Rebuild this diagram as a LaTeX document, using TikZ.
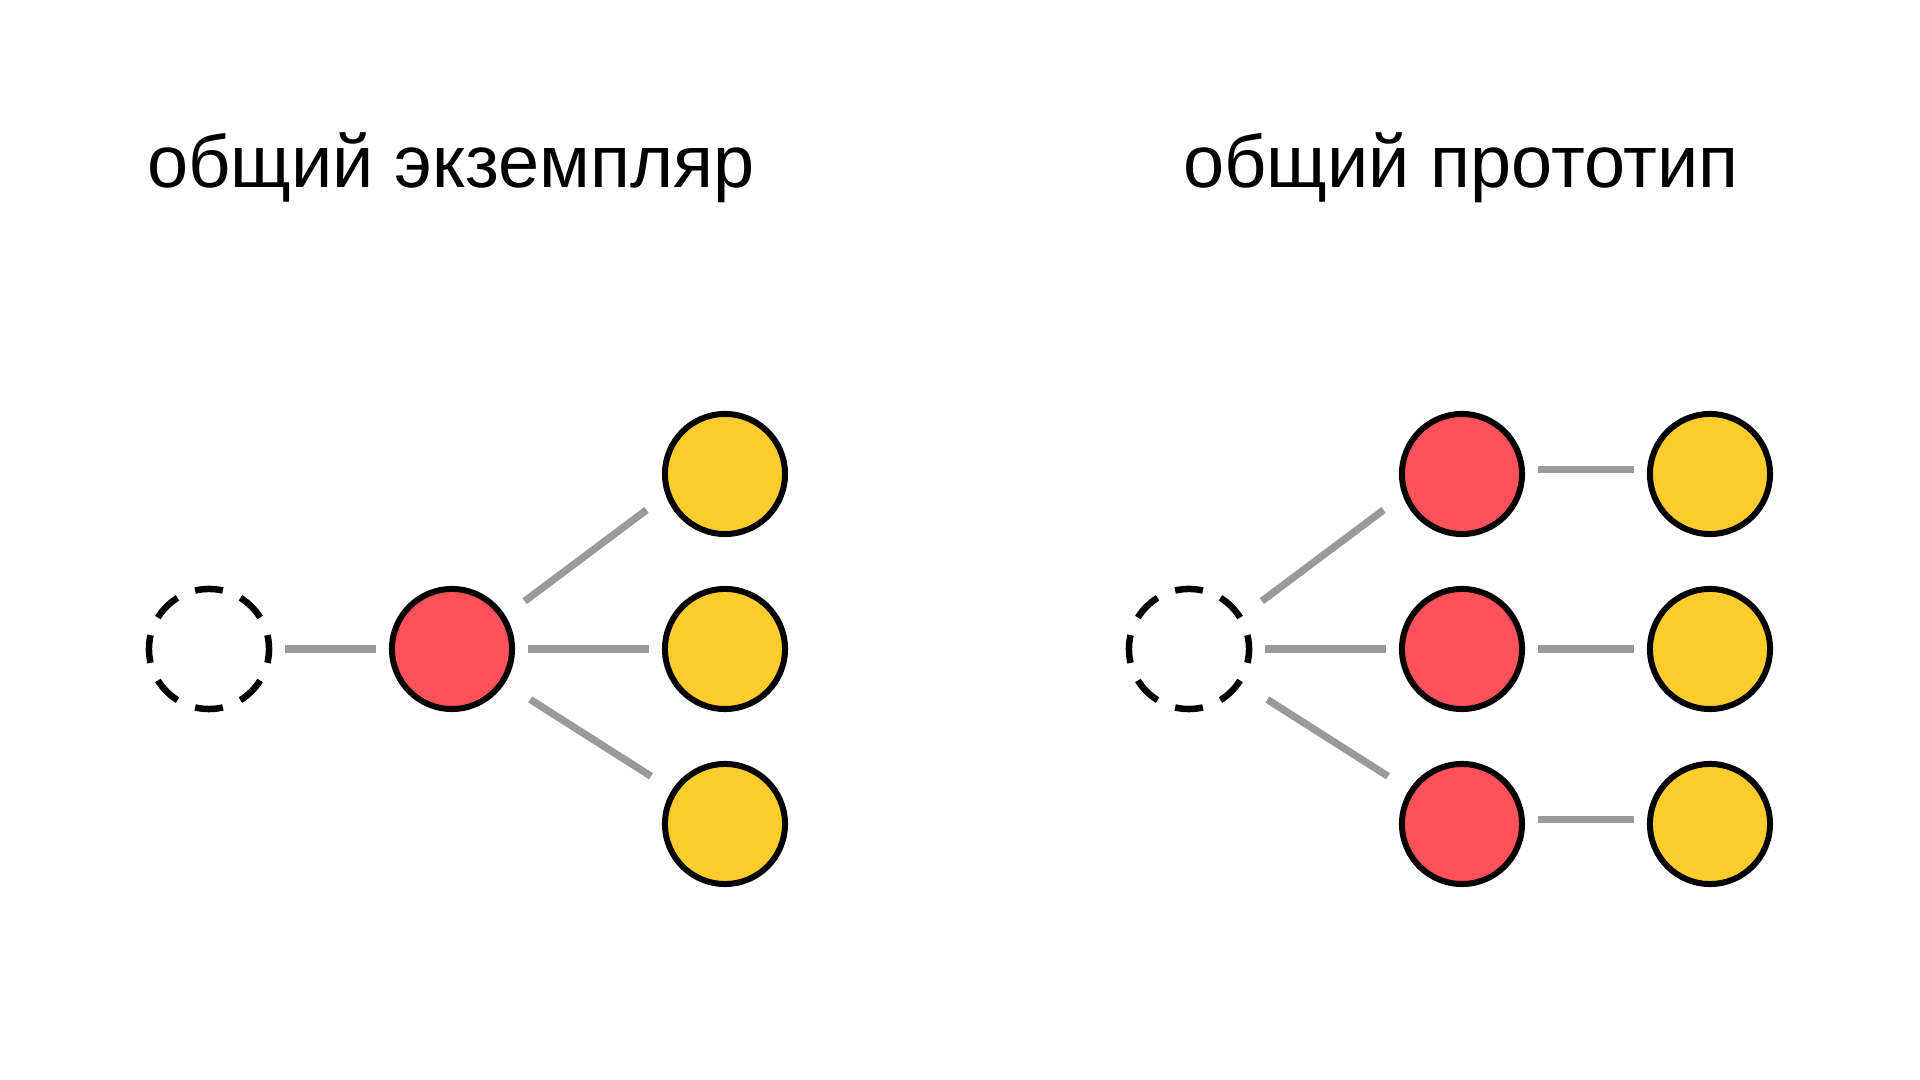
\documentclass[tikz,border=0pt]{standalone}
\usepackage{fontspec}
\setmainfont{Liberation Sans}
\definecolor{objred}{HTML}{FF5159}
\definecolor{instyellow}{HTML}{FECD2D}
\definecolor{linkgray}{HTML}{9A9A9A}
\begin{document}
\begin{tikzpicture}[x=0.01cm,y=-0.01cm,
  ball/.style={circle,draw,line width=0.06cm,minimum size=1.2cm,inner sep=0pt},
  obj/.style={ball,fill=objred},
  inst/.style={ball,fill=instyellow},
  ghost/.style={ball,line width=0.065cm,dash pattern=on 0.28cm off 0.1912cm,dash phase=0.14cm},
  link/.style={draw=linkgray,line width=0.073cm,shorten <=0.13cm,shorten >=0.13cm},
  upslant/.style={link,shorten <=0.24cm,shorten >=0.24cm},
  downslant/.style={link,shorten <=0.3cm,shorten >=0.25cm},
  title/.style={anchor=base,font=\fontsize{21}{25}\selectfont}]
\useasboundingbox (0,0) rectangle (1920,1080);
\node[title] (t1) at (451,188) {общий экземпляр};
\node[title] (t2) at (1461,188) {общий прототип};
\node[ghost] (g1) at (209,649) {};
\node[obj] (r1) at (452,649) {};
\foreach \i/\y in {1/474,2/649,3/824}
  \node[inst] (y1\i) at (725,\y) {};
\draw[link] (g1) -- (r1);
\draw[upslant] (r1.32) -- (y11.200);
\draw[link] (r1) -- (y12);
\draw[downslant] (r1.-33) -- (y13.147);
\node[ghost] (g2) at (1189,649) {};
\foreach \i/\y/\a/\b in {1/474/4/176,2/649/0/180,3/824/4/176}{
  \node[obj] (r2\i) at (1462,\y) {};
  \node[inst] (y2\i) at (1710,\y) {};
  \draw[link] (r2\i.\a) -- (y2\i.\b);}
\draw[upslant] (g2.32) -- (r21.200);
\draw[link] (g2) -- (r22);
\draw[downslant] (g2.-33) -- (r23.147);
\end{tikzpicture}
\end{document}
